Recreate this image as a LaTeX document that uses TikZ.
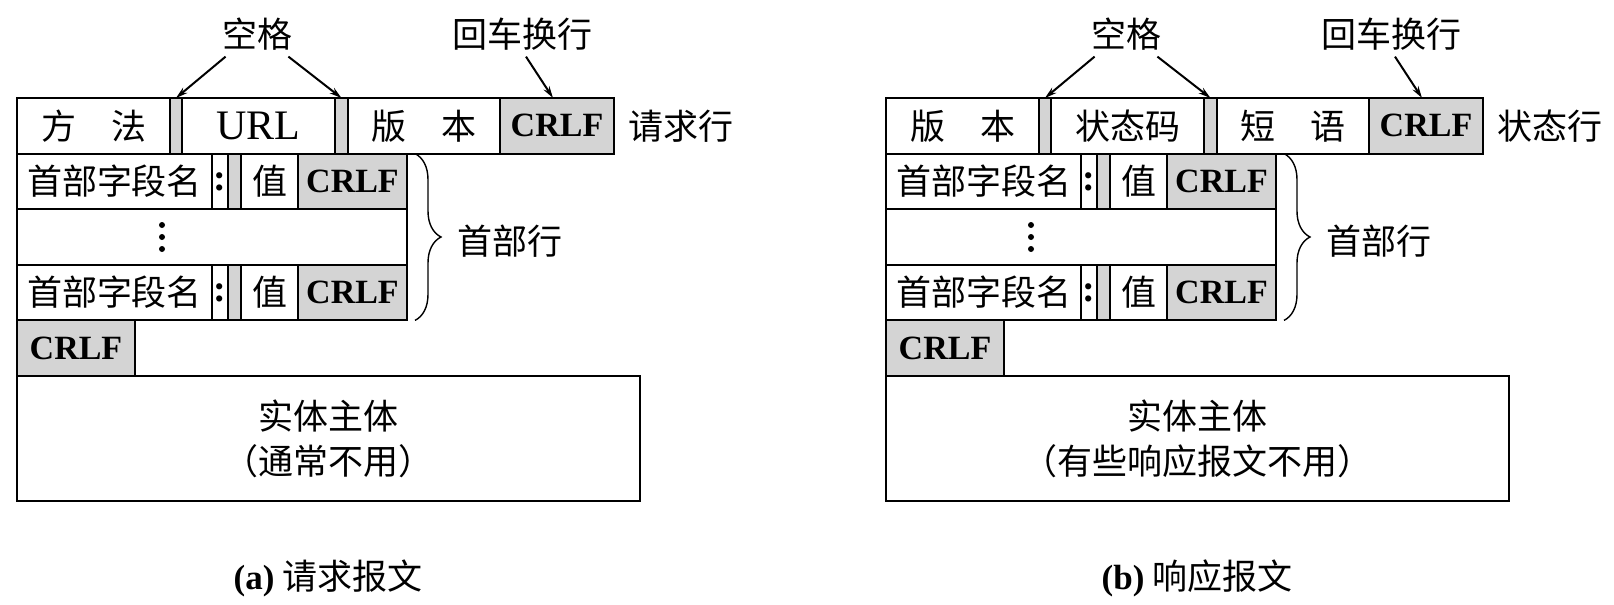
\documentclass[tikz,border=0pt]{standalone}
\usepackage{fontspec}
\setmainfont{Liberation Serif}
\newfontfamily\cjk{Noto Sans CJK SC}
\usetikzlibrary{arrows.meta,decorations.pathreplacing}

\begin{document}
\begin{tikzpicture}[x=0.5pt,y=-0.5pt,
    cell/.style={draw,line width=1pt,inner sep=0pt,outer sep=0pt,minimum height=27.8pt,anchor=north west,
      font=\cjk\fontsize{17.5}{20}\selectfont},
    gap/.style={cell,fill=black!17},
    crlf/.style={cell,fill=black!17,font=\bfseries\fontsize{17}{20}\selectfont},
    lbl/.style={inner sep=0pt,font=\cjk\fontsize{17.5}{22.5}\selectfont},
    arr/.style={-{Stealth[length=6pt,width=3.4pt]},line width=1pt},
    brc/.style={decorate,decoration={brace,amplitude=13pt},line width=0.7pt}]

  \useasboundingbox (0,0) rectangle (1614,605);

  % (a) request line
  \node[cell,minimum width=76.5pt] (a-meth) at (17,98) {方\hspace{1em}法};
  \node[gap,minimum width=6pt] (a-g1) at (a-meth.north east) {};
  \node[cell,minimum width=76.5pt,font=\fontsize{21}{24}\selectfont] (a-url) at (a-g1.north east) {URL};
  \node[gap,minimum width=6.5pt] (a-g2) at (a-url.north east) {};
  \node[cell,minimum width=76pt] (a-ver) at (a-g2.north east) {版\hspace{1em}本};
  \node[crlf,minimum width=57pt] (a-c1) at (a-ver.north east) {CRLF};
  \node[lbl,anchor=west] (a-rl) at ([xshift=7pt]a-c1.east) {请求行};

  % (b) status line
  \node[cell,minimum width=76.5pt] (b-meth) at (886,98) {版\hspace{1em}本};
  \node[gap,minimum width=6pt] (b-g1) at (b-meth.north east) {};
  \node[cell,minimum width=76.5pt] (b-url) at (b-g1.north east) {状态码};
  \node[gap,minimum width=6.5pt] (b-g2) at (b-url.north east) {};
  \node[cell,minimum width=76pt] (b-ver) at (b-g2.north east) {短\hspace{1em}语};
  \node[crlf,minimum width=57pt] (b-c1) at (b-ver.north east) {CRLF};
  \node[lbl,anchor=west] (b-rl) at ([xshift=7pt]b-c1.east) {状态行};

  % header lines, same in both
  \foreach \p in {a,b} {
    \node[cell,minimum width=97.5pt] (\p-h1) at (\p-meth.south west) {首部字段名};
    \node[cell,minimum width=8pt,font=\bfseries\fontsize{19}{20}\selectfont] (\p-h1c) at (\p-h1.north east) {:};
    \node[gap,minimum width=6.5pt] (\p-h1g) at (\p-h1c.north east) {};
    \node[cell,minimum width=28.5pt] (\p-h1v) at (\p-h1g.north east) {值};
    \node[crlf,minimum width=54.5pt] (\p-h1r) at (\p-h1v.north east) {CRLF};
    \node[cell,minimum width=195pt] (\p-dots) at (\p-h1.south west) {};
    \foreach \k in {-1,0,1}
      \fill ([xshift=-25pt,yshift=\k*6pt]\p-dots.center) circle (1.5pt);
    \node[cell,minimum width=97.5pt] (\p-h2) at (\p-dots.south west) {首部字段名};
    \node[cell,minimum width=8pt,font=\bfseries\fontsize{19}{20}\selectfont] (\p-h2c) at (\p-h2.north east) {:};
    \node[gap,minimum width=6.5pt] (\p-h2g) at (\p-h2c.north east) {};
    \node[cell,minimum width=28.5pt] (\p-h2v) at (\p-h2g.north east) {值};
    \node[crlf,minimum width=54.5pt] (\p-h2r) at (\p-h2v.north east) {CRLF};
    \node[crlf,minimum width=59pt] (\p-end) at (\p-h2.south west) {CRLF};
    \draw[brc] ([xshift=4pt]\p-h1r.north east) -- ([xshift=4pt]\p-h2r.south east);
    \node[lbl,anchor=west] (\p-hl) at ([xshift=25pt,yshift=-2pt]\p-dots.east) {首部行};
  }

  % bodies
  \node[cell,minimum width=311.5pt,minimum height=62.5pt,align=center,
    font=\cjk\fontsize{17.5}{22.5}\selectfont] (a-body) at (a-end.south west) {实体主体\\（通常不用）};
  \node[cell,minimum width=311.5pt,minimum height=62.5pt,align=center,
    font=\cjk\fontsize{17.5}{22.5}\selectfont] (b-body) at (b-end.south west) {实体主体\\（有些响应报文不用）};

  % labels above
  \node[lbl] (a-sp) at (257,34) {空格};
  \node[lbl] (a-cr) at (522,34) {回车换行};
  \node[lbl] (b-sp) at (1126,34) {空格};
  \node[lbl] (b-cr) at (1391,34) {回车换行};
  \foreach \p in {a,b} {
    \draw[arr] ([xshift=2pt,yshift=-3pt]\p-sp.south west) -- (\p-g1.north);
    \draw[arr] ([xshift=-2pt,yshift=-3pt]\p-sp.south east) -- (\p-g2.north);
    \draw[arr] ([xshift=2pt,yshift=-3pt]\p-cr.south) -- ([xshift=-2pt]\p-c1.north);
  }

  % captions
  \node[lbl] (a-cap) at (328,578) {{\rmfamily\bfseries (a)} 请求报文};
  \node[lbl] (b-cap) at (1197,578) {{\rmfamily\bfseries (b)} 响应报文};
\end{tikzpicture}
\end{document}
